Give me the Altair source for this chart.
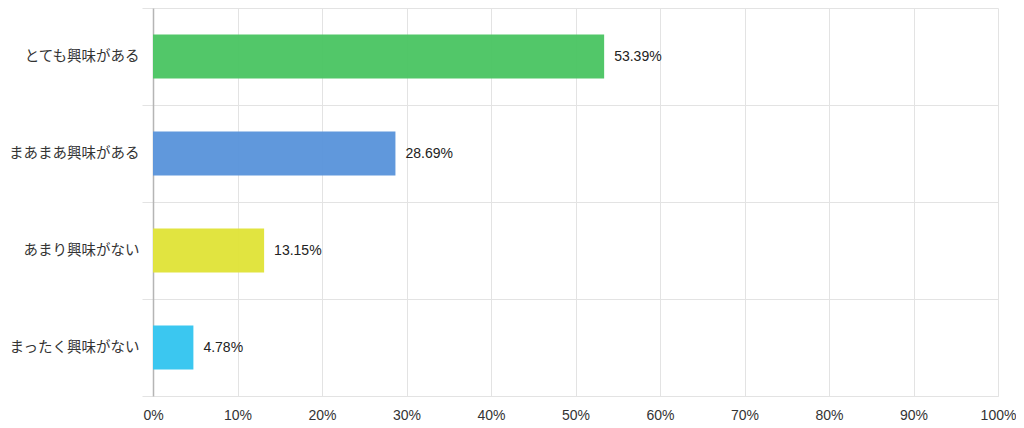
import altair as alt
import pandas as pd

categories = ["とても興味がある", "まあまあ興味がある", "あまり興味がない", "まったく興味がない"]
values = [53.39, 28.69, 13.15, 4.78]
colors = ["#4cc564", "#5b95db", "#e0e33a", "#35c5f0"]
x_ticks = [0, 10, 20, 30, 40, 50, 60, 70, 80, 90, 100]

df = pd.DataFrame({"cat": categories, "val": values,
                   "label": [f"{v:.2f}%" for v in values]})

FONT = "Liberation Sans, Noto Sans CJK JP, sans-serif"

y = alt.Y("cat:N", sort=categories, title=None,
          scale=alt.Scale(paddingInner=0, paddingOuter=0),
          axis=alt.Axis(tickBand="extent", grid=True, gridColor="#e3e3e3",
                        tickColor="#e3e3e3", tickSize=11, domainColor="#b5b5b5",
                        domainWidth=1.5, labelFont=FONT, labelFontSize=14.5,
                        labelColor="#333333", labelPadding=3, labelLimit=200))
x = alt.X("val:Q", title=None,
          scale=alt.Scale(domain=[0, 100], nice=False),
          axis=alt.Axis(values=x_ticks, labelExpr="datum.value + '%'",
                        grid=True, gridColor="#e3e3e3", ticks=False,
                        labelFlush=False,
                        domainColor="#e3e3e3", labelFont=FONT, labelFontSize=14,
                        labelColor="#333333", labelPadding=12))

bars = alt.Chart(df).mark_bar(size=44, opacity=0.97).encode(
    x=x, y=y,
    color=alt.Color("cat:N", sort=categories,
                    scale=alt.Scale(domain=categories, range=colors), legend=None))

text = alt.Chart(df).mark_text(align="left", dx=10, font=FONT, fontSize=14,
                               color="#222222").encode(
    x=alt.X("val:Q"), y=alt.Y("cat:N", sort=categories), text="label:N")

chart = (bars + text).properties(
    width=845, height=388,
    padding={"left": 145, "top": 0, "right": 18, "bottom": 28},
    autosize=alt.AutoSizeParams(type="none"),
).configure_view(stroke=None)

chart.save("out.html", embed_options={"renderer": "svg", "actions": False})
